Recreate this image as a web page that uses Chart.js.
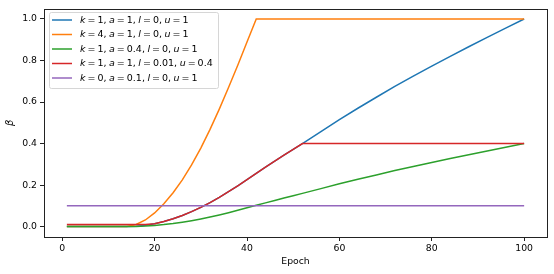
<!DOCTYPE html>
<html>
<head>
<meta charset="utf-8">
<script src="https://cdn.jsdelivr.net/npm/chart.js@4"></script>
<style>
  html, body { margin: 0; padding: 0; background: #fff; }
  #wrap { width: 554px; height: 274px; }
</style>
</head>
<body>
<div id="wrap"><canvas id="betaCanvas" width="554" height="274"></canvas></div>
<script>
const epochs = [1, 4, 8, 12, 14, 16, 18, 20, 22, 24, 26, 28, 30, 32, 34, 36, 38, 40, 42, 44, 46, 48, 50, 52, 56, 60, 64, 68, 72, 76, 80, 84, 88, 92, 96, 100];

const betaK1 = [0, 0, 0, 0, 0, 0.0015, 0.006, 0.0136, 0.0242, 0.0375, 0.0534, 0.0719, 0.0928, 0.1159, 0.141, 0.168, 0.1965, 0.226, 0.2564, 0.286, 0.3152, 0.344, 0.3724, 0.40, 0.458, 0.515, 0.57, 0.623, 0.675, 0.725, 0.773, 0.82, 0.866, 0.911, 0.956, 1.0];
const betaK4 = [0, 0, 0, 0, 0.001, 0.01, 0.032, 0.066, 0.11, 0.163, 0.225, 0.297, 0.378, 0.468, 0.566, 0.67, 0.777, 0.889, 1.0, 1.0, 1.0, 1.0, 1.0, 1.0, 1.0, 1.0, 1.0, 1.0, 1.0, 1.0, 1.0, 1.0, 1.0, 1.0, 1.0, 1.0];
const betaA04 = [0, 0, 0, 0, 0, 0.0006, 0.0024, 0.0054, 0.0097, 0.015, 0.0214, 0.0288, 0.0371, 0.0464, 0.0564, 0.0672, 0.0786, 0.0904, 0.1026, 0.1144, 0.1261, 0.1376, 0.149, 0.16, 0.183, 0.206, 0.228, 0.249, 0.27, 0.29, 0.309, 0.328, 0.346, 0.364, 0.382, 0.40];
const betaClamp = [0.01, 0.01, 0.01, 0.01, 0.01, 0.01, 0.01, 0.0136, 0.0242, 0.0375, 0.0534, 0.0719, 0.0928, 0.1159, 0.141, 0.168, 0.1965, 0.226, 0.2564, 0.286, 0.3152, 0.344, 0.3724, 0.40, 0.40, 0.40, 0.40, 0.40, 0.40, 0.40, 0.40, 0.40, 0.40, 0.40, 0.40, 0.40];
const betaConst = [0.1, 0.1, 0.1, 0.1, 0.1, 0.1, 0.1, 0.1, 0.1, 0.1, 0.1, 0.1, 0.1, 0.1, 0.1, 0.1, 0.1, 0.1, 0.1, 0.1, 0.1, 0.1, 0.1, 0.1, 0.1, 0.1, 0.1, 0.1, 0.1, 0.1, 0.1, 0.1, 0.1, 0.1, 0.1, 0.1];

const seriesLabels = ['k=1, a=1, l=0, u=1', 'k=4, a=1, l=0, u=1', 'k=1, a=0.4, l=0, u=1', 'k=1, a=1, l=0.01, u=0.4', 'k=0, a=0.1, l=0, u=1'];
const seriesColors = ['#1f77b4', '#ff7f0e', '#2ca02c', '#d62728', '#9467bd'];
const seriesValues = [betaK1, betaK4, betaA04, betaClamp, betaConst];

const xTicks = [0, 20, 40, 60, 80, 100];
const yTicks = [0, 0.2, 0.4, 0.6, 0.8, 1.0];

const FONT = '"DejaVu Sans", sans-serif';

function toPoints(vals) {
    return epochs.map((e, i) => ({ x: e, y: vals[i] }));
}

// matplotlib style frame (all four spines)
const framePlugin = {
    id: 'frame',
    afterDraw(chart) {
        const a = chart.chartArea, c = chart.ctx;
        c.save();
        c.strokeStyle = '#222';
        c.lineWidth = 1;
        c.strokeRect(Math.round(a.left) + 0.5, Math.round(a.top) + 0.5, Math.round(a.right - a.left), Math.round(a.bottom - a.top));
        c.restore();
    }
};

// legend box in the upper left, labels with italic variables
function drawMathLabel(c, text, x, y) {
    let cx = x;
    for (const ch of text) {
        if (/[a-z]/.test(ch)) {
            c.font = 'italic 9.5px ' + FONT;
        } else {
            c.font = '9.5px ' + FONT;
        }
        if (ch === '=') {
            cx += 2;
            c.fillText(ch, cx, y);
            cx += c.measureText(ch).width + 2;
        } else if (ch === ' ') {
            cx += 2.5;
        } else {
            c.fillText(ch, cx, y);
            cx += c.measureText(ch).width;
        }
    }
}

const legendPlugin = {
    id: 'boxLegend',
    afterDraw(chart) {
        const c = chart.ctx;
        c.save();
        const bx = 49, by = 12, bw = 169, bh = 76, r = 2;
        c.beginPath();
        c.roundRect(bx + 0.5, by + 0.5, bw, bh, r);
        c.fillStyle = 'rgba(255,255,255,0.8)';
        c.fill();
        c.strokeStyle = '#d6d6d6';
        c.lineWidth = 1;
        c.stroke();
        c.textBaseline = 'middle';
        c.fillStyle = '#000';
        seriesLabels.forEach((lab, i) => {
            const y = 20 + i * 14.5;
            c.strokeStyle = seriesColors[i];
            c.lineWidth = 1.5;
            c.beginPath();
            c.moveTo(52, y);
            c.lineTo(72, y);
            c.stroke();
            drawMathLabel(c, lab, 80, y + 0.5);
        });
        c.restore();
    }
};

const ctx = document.getElementById('betaCanvas').getContext('2d');

const betaChart = new Chart(ctx, {
    type: 'line',
    data: {
        datasets: seriesValues.map((vals, i) => ({
            label: seriesLabels[i],
            data: toPoints(vals),
            borderColor: seriesColors[i],
            backgroundColor: seriesColors[i],
            borderWidth: 1.5,
            pointRadius: 0,
            tension: 0,
            fill: false,
            order: 5 - i
        }))
    },
    options: {
        responsive: false,
        animation: false,
        layout: { padding: { left: 0, top: 7, right: 7, bottom: 0 } },
        plugins: {
            legend: { display: false },
            tooltip: { enabled: false }
        },
        scales: {
            x: {
                type: 'linear',
                min: -3.95,
                max: 104.95,
                afterBuildTicks: (scale) => { scale.ticks = xTicks.map(v => ({ value: v })); },
                afterFit: (scale) => { scale.height = 37; },
                grid: { drawOnChartArea: false, drawTicks: true, tickLength: 4, color: '#222', tickWidth: 1 },
                border: { display: false },
                ticks: { color: '#000', font: { family: FONT, size: 9.3 }, padding: 2, maxRotation: 0 },
                title: { display: true, text: 'Epoch', color: '#000', font: { family: FONT, size: 9.3 }, padding: { top: 2, bottom: 7 } }
            },
            y: {
                type: 'linear',
                min: -0.05,
                max: 1.05,
                afterBuildTicks: (scale) => { scale.ticks = yTicks.map(v => ({ value: v })); },
                afterFit: (scale) => { scale.width = 44; },
                grid: { drawOnChartArea: false, drawTicks: true, tickLength: 4, color: '#222', tickWidth: 1 },
                border: { display: false },
                ticks: { color: '#000', font: { family: FONT, size: 9.3 }, padding: 3, callback: (v) => v.toFixed(1) },
                title: { display: true, text: 'β', color: '#000', font: { family: FONT, size: 10, style: 'italic' }, padding: { top: 4, bottom: 0 } }
            }
        }
    },
    plugins: [framePlugin, legendPlugin]
});
</script>
</body>
</html>
